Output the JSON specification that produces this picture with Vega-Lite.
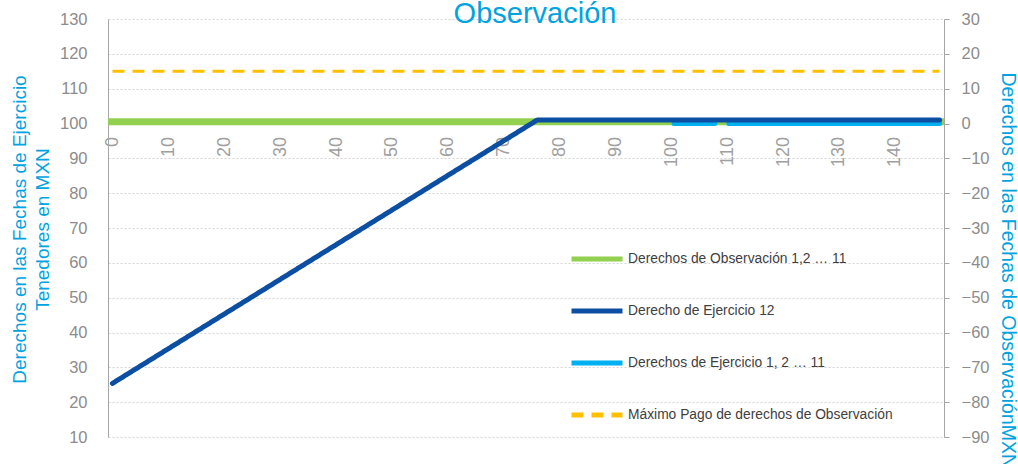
{
  "$schema": "https://vega.github.io/schema/vega-lite/v6.json",
  "width": 836,
  "height": 418,
  "autosize": {"type": "none"},
  "padding": {"left": 108, "top": 19, "right": 74, "bottom": 27},
  "background": "white",
  "config": {"font": "Liberation Sans", "view": {"stroke": null}},
  "title": {"text": "Observación", "fontSize": 29, "font": "Liberation Sans", "fontWeight": "normal", "color": "#00a3e0", "anchor": "middle", "frame": "group", "baseline": "alphabetic", "offset": -41, "dx": 9},
  "datasets": {
    "lines": [
      {"series": "Derechos de Observación 1,2 … 11", "seg": 1, "x": -0.8, "v": 100.5},
      {"series": "Derechos de Observación 1,2 … 11", "seg": 1, "x": 148.8, "v": 100.5},
      {"series": "Máximo Pago de derechos de Observación", "seg": 1, "x": 0, "v": 115},
      {"series": "Máximo Pago de derechos de Observación", "seg": 1, "x": 148, "v": 115},
      {"series": "Derecho de Ejercicio 12", "seg": 1, "x": 0, "v": 25.4},
      {"series": "Derecho de Ejercicio 12", "seg": 1, "x": 76, "v": 101},
      {"series": "Derecho de Ejercicio 12", "seg": 1, "x": 148, "v": 101},
      {"series": "Derechos de Ejercicio 1, 2 … 11", "seg": 1, "x": 100.5, "v": 0},
      {"series": "Derechos de Ejercicio 1, 2 … 11", "seg": 1, "x": 107.8, "v": 0},
      {"series": "Derechos de Ejercicio 1, 2 … 11", "seg": 2, "x": 110.3, "v": 0},
      {"series": "Derechos de Ejercicio 1, 2 … 11", "seg": 2, "x": 148, "v": 0}
    ]
  },
  "data": {"name": "lines"},
  "encoding": {
    "x": {
      "field": "x", "type": "quantitative",
      "scale": {"domain": [-0.8, 148.8], "nice": false, "zero": false},
      "axis": {"orient": "bottom", "offset": -313.5, "values": [0,10,20,30,40,50,60,70,80,90,100,110,120,130,140], "labelAngle": -90, "labelPadding": 13, "labelFontSize": 18, "labelColor": "#a0a0a0", "labelFlush": false, "labelOverlap": false, "domain": false, "ticks": false, "grid": false, "title": null}
    },
    "color": {
      "field": "series", "type": "nominal",
      "scale": {
        "domain": ["Derechos de Observación 1,2 … 11", "Derecho de Ejercicio 12", "Derechos de Ejercicio 1, 2 … 11", "Máximo Pago de derechos de Observación"],
        "range": ["#92d050", "#0b4ea2", "#00b0f0", "#ffc000"]
      },
      "legend": {
        "orient": "none", "legendX": 461, "legendY": 212, "title": null,
        "symbolType": "stroke", "symbolSize": 2601, "symbolStrokeWidth": 5, "labelFontSize": 13.8, "labelColor": "#404040", "labelOffset": 3, "rowPadding": 14, "labelLimit": 400
      }
    },
    "strokeDash": {
      "field": "series", "type": "nominal",
      "scale": {
        "domain": ["Derechos de Observación 1,2 … 11", "Derecho de Ejercicio 12", "Derechos de Ejercicio 1, 2 … 11", "Máximo Pago de derechos de Observación"],
        "range": [[1, 0], [1, 0], [1, 0], [12, 8]]
      },
      "legend": {
        "orient": "none", "legendX": 461, "legendY": 212, "title": null,
        "symbolType": "stroke", "symbolSize": 2601, "symbolStrokeWidth": 5, "labelFontSize": 13.8, "labelColor": "#404040", "labelOffset": 3, "rowPadding": 14, "labelLimit": 400
      }
    }
  },
  "layer": [
    {
      "encoding": {
        "y": {
          "field": "v", "type": "quantitative",
          "scale": {"domain": [10, 130], "nice": false, "zero": false},
          "axis": {"orient": "left", "values": [10,20,30,40,50,60,70,80,90,100,110,120,130], "grid": true, "gridColor": "#d4d4d4", "gridDash": [2, 2], "domainColor": "#a6a6a6", "ticks": false, "labelPadding": 21, "labelFontSize": 16.5, "labelColor": "#8c8c8c", "title": ["Derechos en las Fechas de Ejercicio", "Tenedores en MXN"], "titleFontSize": 19, "titleColor": "#00a3e0", "titleFontWeight": "normal", "titleLineHeight": 23, "titleX": -98, "titleY": 210, "titleBaseline": "top", "titleAngle": -90}
        }
      },
      "layer": [
        {"transform": [{"filter": "datum.series == 'Derechos de Observación 1,2 … 11'"}], "mark": {"type": "line", "strokeWidth": 7, "strokeCap": "butt"}},
        {"transform": [{"filter": "datum.series == 'Máximo Pago de derechos de Observación'"}], "mark": {"type": "line", "strokeWidth": 3, "strokeCap": "butt"}}
      ]
    },
    {
      "transform": [{"filter": "datum.series == 'Derechos de Ejercicio 1, 2 … 11'"}],
      "mark": {"type": "line", "strokeWidth": 5, "strokeCap": "round"},
      "encoding": {
        "detail": {"field": "seg", "type": "nominal"},
        "y": {
          "field": "v", "type": "quantitative",
          "scale": {"domain": [-90, 30], "nice": false, "zero": false},
          "axis": {"orient": "right", "values": [-90,-80,-70,-60,-50,-40,-30,-20,-10,0,10,20,30], "grid": false, "domainColor": "#a6a6a6", "tickColor": "#a6a6a6", "tickSize": 5, "labelPadding": 12, "labelFontSize": 16.5, "labelColor": "#8c8c8c", "title": "Derechos en las Fechas de ObservaciónMXN", "titleFontSize": 19.5, "titleColor": "#00a3e0", "titleFontWeight": "normal", "titleAngle": 90, "titleAlign": "left", "titleBaseline": "middle", "titleX": 63, "titleY": 53}
        }
      }
    },
    {
      "transform": [{"filter": "datum.series == 'Derecho de Ejercicio 12'"}],
      "mark": {"type": "line", "strokeWidth": 5, "strokeCap": "round", "strokeJoin": "round"},
      "encoding": {
        "y": {"field": "v", "type": "quantitative", "scale": {"domain": [10, 130], "nice": false, "zero": false}, "axis": null}
      }
    }
  ],
  "resolve": {"scale": {"y": "independent"}}
}
